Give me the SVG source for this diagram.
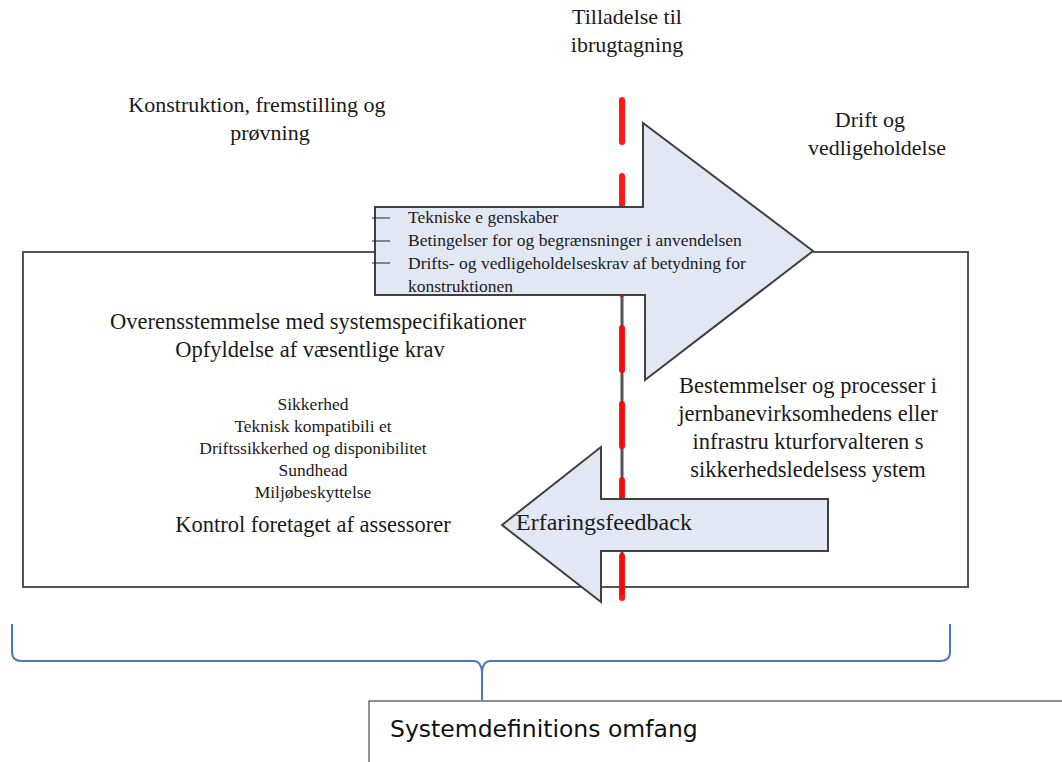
<svg xmlns="http://www.w3.org/2000/svg" width="1062" height="762" viewBox="0 0 1062 762">
<style>
.serif{font-family:"Liberation Serif","DejaVu Serif",serif;fill:#1a1a1a}
.big{font-size:22.5px}
.mid{font-size:22px}
.small{font-size:17.5px}
.arrow{fill:#e2e8f3;stroke:#404040;stroke-width:2;stroke-linejoin:miter}
.frame{fill:none;stroke:#555;stroke-width:2}
.tick{stroke:#222;stroke-width:1}
</style>
<rect width="1062" height="762" fill="#fff"/>
<g id="scope-frame">
<path class="frame" d="M375 252 H23 V587 H968 V252 H813"/>
</g>
<g id="connectors">
<line x1="622" y1="295" x2="622" y2="595" stroke="#555" stroke-width="3"/>
<line x1="622" y1="100" x2="622" y2="612" stroke="#ff0000" stroke-opacity="0.9" stroke-width="6" stroke-linecap="round" stroke-dasharray="42 34"/>
<path d="M12 624 V652 Q12 661 22 661 H474 Q481 661 482 672 V700 M482 700 V672 Q483 661 490 661 H940 Q950 661 950 652 V624" fill="none" stroke="#4a78c0" stroke-width="2"/>
</g>
<g id="approval-label">
<text class="serif mid" x="627" y="24" text-anchor="middle">Tilladelse til</text>
<text class="serif mid" x="627" y="52" text-anchor="middle">ibrugtagning</text>
</g>
<g id="phase-construction">
<text class="serif mid" x="257" y="112" text-anchor="middle">Konstruktion, fremstilling og</text>
<text class="serif mid" x="270" y="140" text-anchor="middle">prøvning</text>
</g>
<g id="phase-operation">
<text class="serif mid" x="870" y="127" text-anchor="middle">Drift og</text>
<text class="serif mid" x="877" y="155" text-anchor="middle">vedligeholdelse</text>
</g>
<g id="transfer-arrow">
<polygon class="arrow" points="375,207 643,207 643,123 813,251 645,380 645,295 375,295"/>
<line class="tick" x1="372" y1="218" x2="390" y2="218"/>
<line class="tick" x1="372" y1="241" x2="390" y2="241"/>
<line class="tick" x1="372" y1="263" x2="390" y2="263"/>
<text class="serif small" x="408" y="223">Tekniske e genskaber</text>
<text class="serif small" x="408" y="246">Betingelser for og begrænsninger i anvendelsen</text>
<text class="serif small" x="408" y="269">Drifts- og vedligeholdelseskrav af betydning for</text>
<text class="serif small" x="408" y="292">konstruktionen</text>
</g>
<g id="conformity">
<text class="serif big" x="318" y="329" text-anchor="middle">Overensstemmelse med systemspecifikationer</text>
<text class="serif big" x="310" y="357" text-anchor="middle">Opfyldelse af væsentlige krav</text>
<text class="serif small" x="313" y="410" text-anchor="middle">Sikkerhed</text>
<text class="serif small" x="313" y="432" text-anchor="middle">Teknisk kompatibili et</text>
<text class="serif small" x="313" y="454" text-anchor="middle">Driftssikkerhed og disponibilitet</text>
<text class="serif small" x="313" y="476" text-anchor="middle">Sundhead</text>
<text class="serif small" x="313" y="498" text-anchor="middle">Miljøbeskyttelse</text>
<text class="serif big" x="313" y="532" text-anchor="middle">Kontrol foretaget af assessorer</text>
</g>
<g id="sms">
<text class="serif big" x="808" y="393" text-anchor="middle">Bestemmelser og processer i</text>
<text class="serif big" x="808" y="421" text-anchor="middle">jernbanevirksomhedens eller</text>
<text class="serif big" x="808" y="449" text-anchor="middle">infrastru kturforvalteren s</text>
<text class="serif big" x="808" y="477" text-anchor="middle">sikkerhedsledelsess ystem</text>
</g>
<g id="feedback-arrow">
<polygon class="arrow" points="828,499 601,499 601,447 502,525 601,602 601,551 828,551"/>
<text class="serif" font-size="24" x="516" y="530">Erfaringsfeedback</text>
</g>
<g id="scope-box">
<rect x="369" y="701" width="700" height="70" fill="#fff" stroke="#222" stroke-width="1"/>
<text x="390" y="737" font-family="DejaVu Sans, Verdana, sans-serif" font-size="23.5" fill="#111">Systemdefinitions omfang</text>
</g>
</svg>
